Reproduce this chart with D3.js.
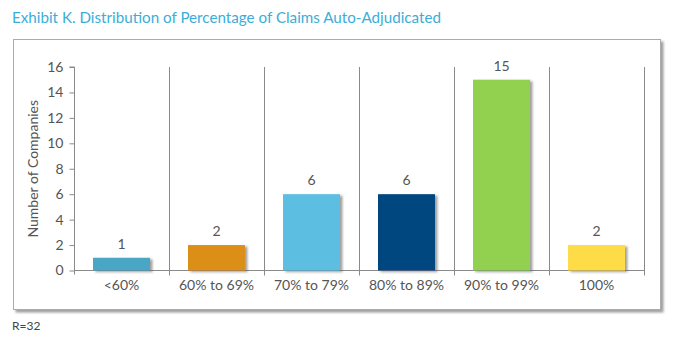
<!DOCTYPE html>
<html>
<head>
<meta charset="utf-8">
<script src="https://cdn.jsdelivr.net/npm/d3@7"></script>
<style>
  html, body { margin: 0; padding: 0; background: #fff; }
  svg { display: block; }
</style>
</head>
<body>
<svg id="chart" width="674" height="345"></svg>
<script>
// Data
const categories = ["<60%", "60% to 69%", "70% to 79%", "80% to 89%", "90% to 99%", "100%"];
const companies = [1, 2, 6, 6, 15, 2];
const barColors = ["#48a6c4", "#dc8f18", "#5bbfe2", "#02467f", "#92d050", "#fedc47"];
const yTicks = [0, 2, 4, 6, 8, 10, 12, 14, 16];

const titleText = "Exhibit K. Distribution of Percentage of Claims Auto-Adjudicated";
const yAxisTitle = "Number of Companies";
const footnote = "R=32";

const svg = d3.select("#chart");
const font = "Lato, 'Open Sans', sans-serif";

const defs = svg.append("defs");
const boxShadow = defs.append("filter").attr("id", "boxShadow")
  .attr("x", "-5%").attr("y", "-5%").attr("width", "110%").attr("height", "115%");
boxShadow.append("feDropShadow").attr("dx", 2.5).attr("dy", 2.5)
  .attr("stdDeviation", 1).attr("flood-color", "#777").attr("flood-opacity", 0.7);
const barShadow = defs.append("filter").attr("id", "barShadow")
  .attr("x", "-20%").attr("y", "-20%").attr("width", "150%").attr("height", "150%");
barShadow.append("feDropShadow").attr("dx", 2.5).attr("dy", 1.5)
  .attr("stdDeviation", 1.3).attr("flood-color", "#555").attr("flood-opacity", 0.55);

// Title
svg.append("text")
  .attr("x", 12).attr("y", 23)
  .attr("font-family", font).attr("font-size", 15.2)
  .attr("fill", "#3aaed8")
  .text(titleText);

// Framing box
svg.append("rect")
  .attr("x", 13.5).attr("y", 39.5).attr("width", 647).attr("height", 270)
  .attr("fill", "#fff").attr("stroke", "#a8acae").attr("stroke-width", 1)
  .attr("filter", "url(#boxShadow)");

// Scales
const x = d3.scaleBand().domain(categories).range([74, 644]).paddingInner(0.4).paddingOuter(0.2);
const y = d3.scaleLinear().domain([0, 16]).range([270.5, 67]);

const axisColor = "#8a8a8a";
const textColor = "#555";

// Category dividers
const bounds = d3.range(categories.length + 1).map(i => 74 + i * x.step());
svg.append("g").selectAll("line").data(bounds.slice(1)).join("line")
  .attr("x1", d => Math.round(d) + 0.5).attr("x2", d => Math.round(d) + 0.5)
  .attr("y1", y(16)).attr("y2", y(0) + 5)
  .attr("stroke", axisColor).attr("stroke-width", 1);

// Y axis
const yAxis = svg.append("g").attr("transform", "translate(74.5,0)")
  .call(d3.axisLeft(y).tickValues(yTicks).tickSize(5).tickPadding(6).tickFormat(d3.format("d")));
yAxis.select(".domain").attr("stroke", axisColor).attr("d", `M-5,${y(16)}H0V${y(0) + 4}`);
yAxis.selectAll(".tick line").attr("stroke", axisColor);
yAxis.selectAll(".tick text").attr("fill", textColor).attr("font-family", font).attr("font-size", 14);

// X axis
const xAxis = svg.append("g").attr("transform", `translate(0,${y(0)})`)
  .call(d3.axisBottom(x).tickSize(0).tickPadding(10));
xAxis.select(".domain").attr("stroke", axisColor).attr("d", `M74,0H644`);
xAxis.selectAll(".tick text").attr("fill", textColor).attr("font-family", font).attr("font-size", 14)
  .attr("dy", "0.71em");

// Bars
svg.append("g").selectAll("rect").data(companies).join("rect")
  .attr("x", (d, i) => x(categories[i]))
  .attr("y", d => y(d))
  .attr("width", x.bandwidth())
  .attr("height", d => y(0) - y(d))
  .attr("fill", (d, i) => barColors[i])
  .attr("filter", "url(#barShadow)");

// Value labels
svg.append("g").selectAll("text").data(companies).join("text")
  .attr("x", (d, i) => x(categories[i]) + x.bandwidth() / 2)
  .attr("y", d => y(d) - 9)
  .attr("text-anchor", "middle")
  .attr("font-family", font).attr("font-size", 14).attr("fill", textColor)
  .text(d => d);

// Y axis title
svg.append("text")
  .attr("transform", `translate(38,${(y(0) + y(16)) / 2}) rotate(-90)`)
  .attr("text-anchor", "middle")
  .attr("font-family", font).attr("font-size", 14).attr("fill", textColor)
  .text(yAxisTitle);

// Footnote
svg.append("text")
  .attr("x", 12).attr("y", 330)
  .attr("font-family", font).attr("font-size", 12).attr("fill", "#444")
  .text(footnote);
</script>
</body>
</html>
